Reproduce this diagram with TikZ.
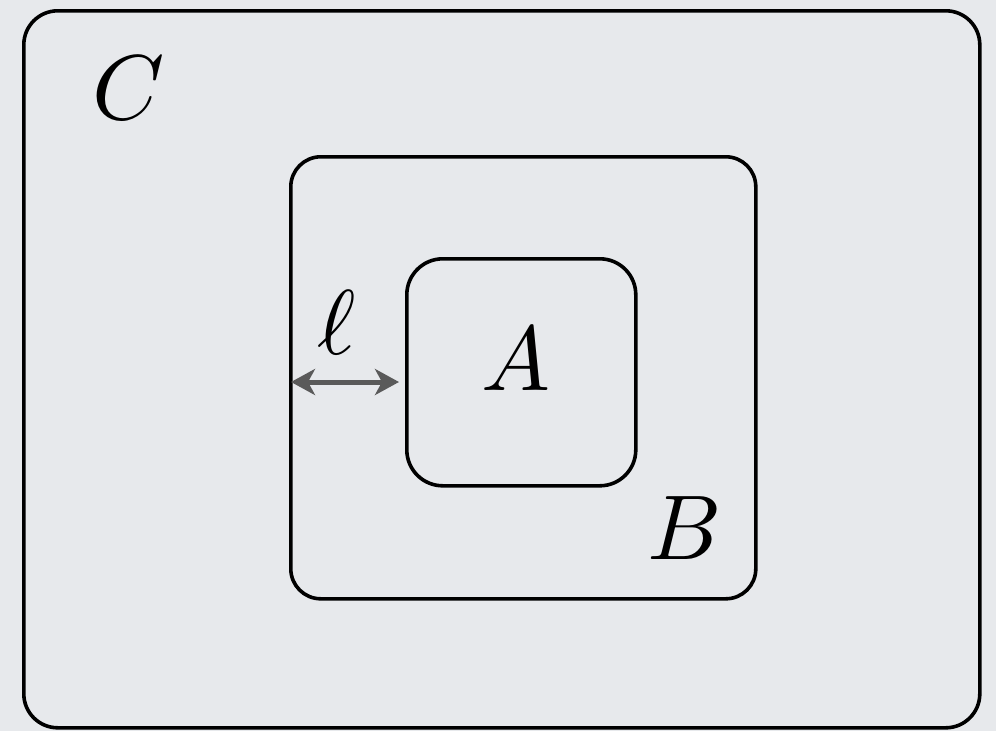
\documentclass[tikz,border=0pt]{standalone}
\usetikzlibrary{arrows.meta}
\definecolor{bg}{HTML}{E7E9EC}
\definecolor{arrowgray}{HTML}{5A5A5A}
\begin{document}
\begin{tikzpicture}[x=1pt,y=-1pt,
  box/.style={draw=black,fill=bg,rounded corners=#1,inner sep=0pt,anchor=north west,line width=3.6pt},
  lbl/.style={scale=9.2,inner sep=0pt}]
\fill[bg] (0,0) rectangle (996,731);
\useasboundingbox (0,0) rectangle (996,731);
\node[box=34pt,minimum width=956pt,minimum height=717pt] (C) at (22,9) {};
\node[box=30pt,minimum width=465pt,minimum height=442pt] (B) at (289,155) {};
\node[box=36pt,minimum width=229pt,minimum height=227pt] (A) at (405,257) {};
\node[lbl] (Ct) at (129,88) {$C$};
\node[lbl] (Bt) at (685,528) {$B$};
\node[lbl] (At) at (516,359) {$A$};
\node[lbl] (lt) at (337,323) {$\ell$};
\coordinate (l1) at (291,382);
\coordinate (l2) at (399,382);
\draw[arrowgray,line width=5pt,{Stealth[length=24pt,width=26pt,inset=7pt]}-{Stealth[length=24pt,width=26pt,inset=7pt]}] (l1) -- (l2);
\end{tikzpicture}
\end{document}
